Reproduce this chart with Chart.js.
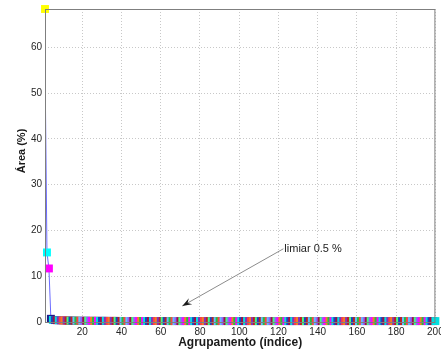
<!DOCTYPE html>
<html>
<head>
<meta charset="utf-8">
<script src="https://cdn.jsdelivr.net/npm/chart.js@4.4.1/dist/chart.umd.min.js"></script>
<style>
  html, body { margin: 0; padding: 0; background: #fff; }
  #wrap { position: relative; width: 441px; height: 356px; }
</style>
</head>
<body>
<div id="wrap"><canvas id="areaChart"></canvas></div>
<script>
'use strict';

/* ----------------------------------------------------------
   DATA
---------------------------------------------------------- */
/* first four groups, where the curve is steep */
const headMarkers = [68.4, 15.2, 11.7, 0.7];
const headLine    = [57.0, 15.2, 11.7, 0.7];

/* groups 5..200, all close to zero */
const tailValues = [
  0.45, 0.42, 0.40, 0.38, 0.36, 0.35, 0.33, 0.32, 0.31, 0.30,
  0.30, 0.29, 0.29, 0.28, 0.28, 0.28, 0.27, 0.27, 0.27, 0.26,
  0.26, 0.26, 0.26, 0.25, 0.25, 0.25, 0.25, 0.25, 0.24, 0.24,
  0.24, 0.24, 0.24, 0.24, 0.23, 0.23, 0.23, 0.23, 0.23, 0.23,
  0.23, 0.22, 0.22, 0.22, 0.22, 0.22, 0.22, 0.22, 0.22, 0.21,
  0.21, 0.21, 0.21, 0.21, 0.21, 0.21, 0.21, 0.21, 0.21, 0.20,
  0.20, 0.20, 0.20, 0.20, 0.20, 0.20, 0.20, 0.20, 0.20, 0.20,
  0.20, 0.20, 0.20, 0.20, 0.20, 0.20, 0.20, 0.20, 0.20, 0.20,
  0.20, 0.20, 0.20, 0.20, 0.20, 0.20, 0.20, 0.20, 0.20, 0.20,
  0.20, 0.20, 0.20, 0.20, 0.20, 0.20, 0.20, 0.20, 0.20, 0.20,
  0.20, 0.20, 0.20, 0.20, 0.20, 0.20, 0.20, 0.20, 0.20, 0.20,
  0.20, 0.20, 0.20, 0.20, 0.20, 0.20, 0.20, 0.20, 0.20, 0.20,
  0.20, 0.20, 0.20, 0.20, 0.20, 0.20, 0.20, 0.20, 0.20, 0.20,
  0.20, 0.20, 0.20, 0.20, 0.20, 0.20, 0.20, 0.20, 0.20, 0.20,
  0.20, 0.20, 0.20, 0.20, 0.20, 0.20, 0.20, 0.20, 0.20, 0.20,
  0.20, 0.20, 0.20, 0.20, 0.20, 0.20, 0.20, 0.20, 0.20, 0.20,
  0.20, 0.20, 0.20, 0.20, 0.20, 0.20, 0.20, 0.20, 0.20, 0.20,
  0.20, 0.20, 0.20, 0.20, 0.20, 0.20, 0.20, 0.20, 0.20, 0.20,
  0.20, 0.20, 0.20, 0.20, 0.20, 0.20, 0.20, 0.20, 0.20, 0.20,
  0.20, 0.20, 0.20, 0.20, 0.20, 0.20
];

const xTicks = [20, 40, 60, 80, 100, 120, 140, 160, 180, 200];
const yTicks = [0, 10, 20, 30, 40, 50, 60];

const xLabel = 'Agrupamento (índice)';
const yLabel = 'Área (%)';

/* annotation: text anchor and arrow tip, in data units */
const noteText = 'limiar 0.5 %';
const noteFrom = { x: 122.5, y: 16.0 };
const noteTip  = { x: 71.0,  y: 3.5 };

/* ----------------------------------------------------------
   MARKER COLOURS
---------------------------------------------------------- */
const HEAD_COLORS = ['#ffff00', '#00ffff', '#ff00ff', '#1a1a8c'];
const PALETTE = [
  '#ff00ff', '#e0206a', '#20c040', '#3060ff', '#00e0e0', '#e8e020',
  '#a01040', '#40a060', '#8030c0', '#ff7fbf', '#f08020', '#1090a0',
  '#c02020', '#80e040', '#2040c0', '#d040d0', '#60c0ff', '#b08020',
  '#ff4040', '#00c080', '#9060ff', '#ff60a0', '#40ff80', '#602060'
];

const markerValues = headMarkers.concat(tailValues);
const lineValues   = headLine.concat(tailValues);

const markerColors = markerValues.map((v, i) =>
  i < HEAD_COLORS.length ? HEAD_COLORS[i] : PALETTE[(i * 7 + i * i * 3) % PALETTE.length]);

/* ----------------------------------------------------------
   PLUGIN: box, titles and the arrow annotation
---------------------------------------------------------- */
const decorPlugin = {
  id: 'decor',
  afterDatasetsDraw(chart) {
    const { ctx, chartArea: a, scales } = chart;
    ctx.save();

    /* box round the axes */
    ctx.strokeStyle = '#7f7f7f';
    ctx.lineWidth = 1;
    ctx.strokeRect(a.left + 0.5, a.top + 0.5, a.right - a.left - 1, a.bottom - a.top);

    /* arrow */
    const x0 = scales.x.getPixelForValue(noteFrom.x);
    const y0 = scales.y.getPixelForValue(noteFrom.y);
    const x1 = scales.x.getPixelForValue(noteTip.x);
    const y1 = scales.y.getPixelForValue(noteTip.y);
    ctx.strokeStyle = '#8c8c8c';
    ctx.beginPath();
    ctx.moveTo(x0, y0);
    ctx.lineTo(x1, y1);
    ctx.stroke();

    const ang = Math.atan2(y1 - y0, x1 - x0);
    const len = 10, half = 0.35;
    ctx.fillStyle = '#1a1a1a';
    ctx.beginPath();
    ctx.moveTo(x1, y1);
    ctx.lineTo(x1 - len * Math.cos(ang - half), y1 - len * Math.sin(ang - half));
    ctx.lineTo(x1 - len * 0.6 * Math.cos(ang), y1 - len * 0.6 * Math.sin(ang));
    ctx.lineTo(x1 - len * Math.cos(ang + half), y1 - len * Math.sin(ang + half));
    ctx.closePath();
    ctx.fill();

    ctx.fillStyle = '#1a1a1a';
    ctx.font = '11px "Liberation Sans", Arial, sans-serif';
    ctx.textAlign = 'left';
    ctx.textBaseline = 'middle';
    ctx.fillText(noteText, x0 + 1, y0);

    /* axis titles */
    ctx.font = 'bold 12px "Liberation Sans", Arial, sans-serif';
    ctx.textAlign = 'center';
    ctx.textBaseline = 'middle';
    ctx.fillText(xLabel, (a.left + a.right) / 2, 343);

    ctx.translate(22, 151);
    ctx.rotate(-Math.PI / 2);
    ctx.font = 'bold 11px "Liberation Sans", Arial, sans-serif';
    ctx.fillText(yLabel, 0, 0);

    ctx.restore();
  }
};

/* ----------------------------------------------------------
   CHART
---------------------------------------------------------- */
const tickFont = { family: '"Liberation Sans", Arial, sans-serif', size: 10 };
const gridStyle = {
  color: '#c8c8c8',
  lineWidth: 1,
  drawTicks: false
};

new Chart(document.getElementById('areaChart'), {
  type: 'line',
  data: {
    datasets: [
      {
        label: 'markers',
        data: markerValues.map((v, i) => ({ x: i + 1, y: v })),
        showLine: false,
        pointStyle: 'rect',
        pointRadius: 5.6,
        pointBorderWidth: 0,
        pointBackgroundColor: markerColors,
        pointBorderColor: markerColors,
        clip: false,
        order: 1
      },
      {
        label: 'line',
        data: lineValues.map((v, i) => ({ x: i + 1, y: v })),
        borderColor: '#6a6aff',
        borderWidth: 1,
        pointRadius: 0,
        tension: 0,
        order: 2
      }
    ]
  },
  options: {
    responsive: true,
    maintainAspectRatio: false,
    animation: false,
    events: [],
    layout: { padding: { top: 9, right: 1, left: 0, bottom: 0 } },
    plugins: {
      legend: { display: false },
      tooltip: { enabled: false }
    },
    scales: {
      x: {
        type: 'linear',
        min: 1,
        max: 200,
        afterBuildTicks: s => { s.ticks = xTicks.map(v => ({ value: v })); },
        afterFit: s => { s.height = 34; s.paddingLeft = 0; s.paddingRight = 0; },
        ticks: { font: tickFont, color: '#262626', padding: 4, maxRotation: 0, autoSkip: false },
        grid: Object.assign({}, gridStyle),
        border: { display: false, dash: [1, 2] }
      },
      y: {
        min: 0,
        max: 68.4,
        afterBuildTicks: s => { s.ticks = yTicks.map(v => ({ value: v })); },
        afterFit: s => { s.width = 45; s.paddingTop = 0; s.paddingBottom = 0; },
        ticks: { font: tickFont, color: '#262626', padding: 3 },
        grid: Object.assign({}, gridStyle),
        border: { display: false, dash: [1, 2] }
      }
    }
  },
  plugins: [decorPlugin]
});
</script>
</body>
</html>
